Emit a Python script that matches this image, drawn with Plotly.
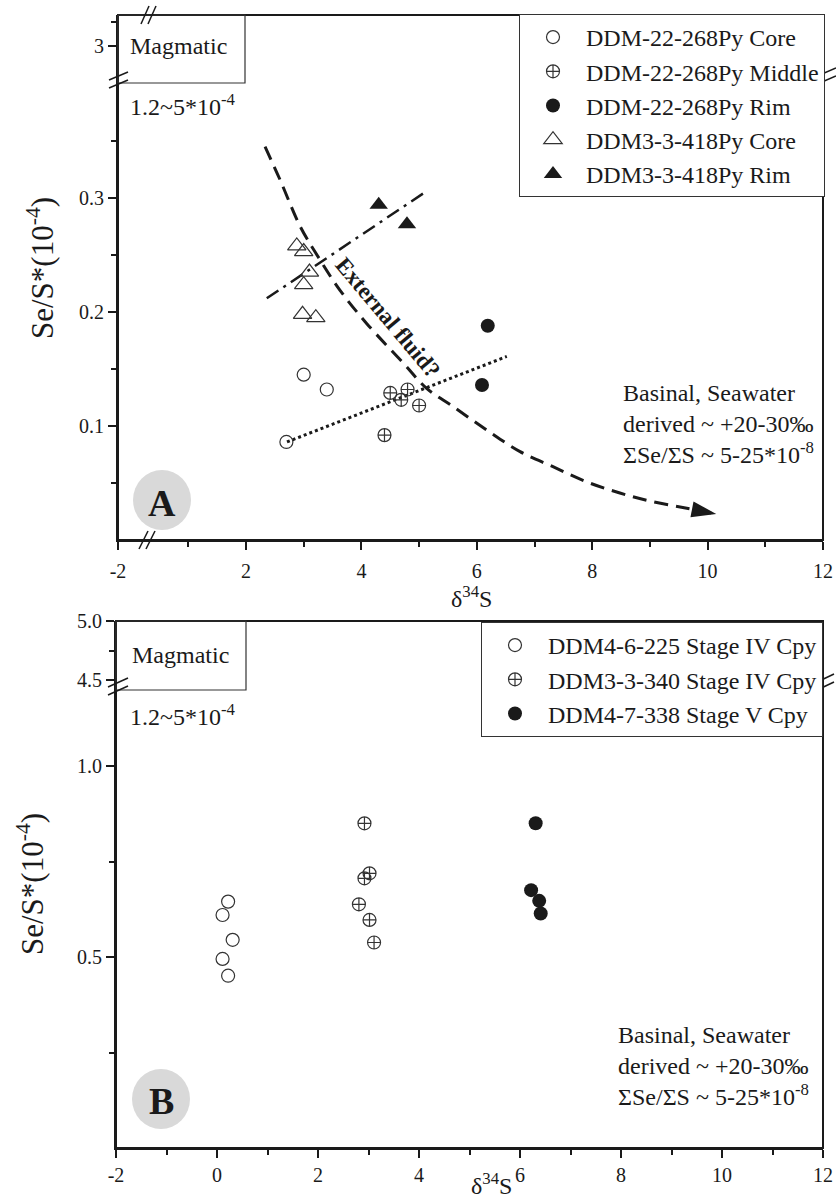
import plotly.graph_objects as go

W, H = 836, 1199
FONT = "Liberation Serif, Times New Roman, serif"
INK = "#1a1a1a"

# ---------------- Panel A data (pyrite) ----------------
core268_x = [3.00, 3.40, 2.70]
core268_y = [0.145, 0.132, 0.086]
mid268_x = [4.50, 4.80, 4.69, 5.00, 4.40]
mid268_y = [0.129, 0.132, 0.123, 0.118, 0.092]
rim268_x = [6.19, 6.09]
rim268_y = [0.188, 0.136]
core418_x = [2.88, 3.00, 3.10, 3.00, 2.98, 3.21]
core418_y = [0.258, 0.253, 0.235, 0.224, 0.198, 0.195]
rim418_x = [4.30, 4.79]
rim418_y = [0.294, 0.277]

# trend lines (panel A)
dot_x = [2.71, 6.52]
dot_y = [0.086, 0.161]
dashdot_x = [2.36, 5.13]
dashdot_y = [0.212, 0.306]
curve_x = [2.33, 2.59, 2.94, 3.28, 3.63, 4.09, 4.73, 5.13, 5.59, 6.17, 6.75,
           7.32, 7.90, 8.48, 9.05, 9.64, 10.15]
curve_y = [0.345, 0.316, 0.275, 0.246, 0.219, 0.190, 0.155, 0.133, 0.117, 0.0965,
           0.0775, 0.0643, 0.0511, 0.0412, 0.0336, 0.0278, 0.0228]

# ---------------- Panel B data (chalcopyrite) ----------------
cpy225_x = [0.22, 0.11, 0.31, 0.11, 0.22]
cpy225_y = [0.645, 0.610, 0.545, 0.495, 0.451]
cpy340_x = [2.92, 3.02, 2.92, 2.81, 3.02, 3.11]
cpy340_y = [0.850, 0.719, 0.706, 0.638, 0.597, 0.538]
cpy338_x = [6.31, 6.22, 6.38, 6.41]
cpy338_y = [0.850, 0.675, 0.647, 0.614]

# tick values / labels
a_x_major = [2, 4, 6, 8, 10, 12]
a_x_minor = [1, 3, 5, 7, 9, 11]
a_x_left = [-2]
a_x_left_text = ["-2"]
a_y_major = [0.1, 0.2, 0.3]
a_y_minor = [0.05, 0.15, 0.25, 0.35]
a_y_upper = [3]
a_y_upper_minor = [3.1]
b_x_major = [-2, 0, 2, 4, 6, 8, 10, 12]
b_x_major_text = ["-2", "0", "2", "4", "6", "8", "10", "12"]
b_x_minor = [-1, 1, 3, 5, 7, 9, 11]
b_y_major = [0.5, 1.0]
b_y_minor = [0.25, 0.75]
b_y_upper = [4.5, 5.0]
b_y_upper_minor = [4.75]


def pxx(x):
    return x / W


def pyy(y):
    return 1 - y / H


fig = go.Figure()


def pts(x, y, name, symbol, size, legend, xa, ya, filled=False):
    fig.add_trace(go.Scatter(
        x=x, y=y, mode="markers", name=name, legend=legend,
        xaxis=xa, yaxis=ya,
        marker=dict(symbol=symbol, size=size,
                    color=INK if filled else "#333333",
                    line=dict(width=0 if filled else 1.2, color="#333333")),
    ))


# trend lines first (under markers)
fig.add_trace(go.Scatter(x=dot_x, y=dot_y, mode="lines", showlegend=False,
                         line=dict(color=INK, width=3, dash="3px,3px"),
                         xaxis="x", yaxis="y"))
fig.add_trace(go.Scatter(x=dashdot_x, y=dashdot_y, mode="lines", showlegend=False,
                         line=dict(color=INK, width=2.5, dash="14px,6px,3px,6px"),
                         xaxis="x", yaxis="y"))
fig.add_trace(go.Scatter(x=curve_x, y=curve_y, mode="lines+markers", showlegend=False,
                         line=dict(color=INK, width=3, dash="14px,8px", shape="spline"),
                         marker=dict(symbol="arrow", angleref="previous",
                                     size=[0] * (len(curve_x) - 1) + [26], color=INK,
                                     line=dict(width=0), opacity=1),
                         xaxis="x", yaxis="y"))

pts(core268_x, core268_y, "DDM-22-268Py Core", "circle-open", 13, "legend", "x", "y")
pts(mid268_x, mid268_y, "DDM-22-268Py Middle", "circle-cross-open", 13, "legend", "x", "y")
pts(rim268_x, rim268_y, "DDM-22-268Py Rim", "circle", 14, "legend", "x", "y", True)
pts(core418_x, core418_y, "DDM3-3-418Py Core", "triangle-up-open", 16, "legend", "x", "y")
pts(rim418_x, rim418_y, "DDM3-3-418Py Rim", "triangle-up", 16, "legend", "x", "y", True)

pts(cpy225_x, cpy225_y, "DDM4-6-225 Stage IV Cpy", "circle-open", 13, "legend2", "x5", "y5")
pts(cpy340_x, cpy340_y, "DDM3-3-340 Stage IV Cpy", "circle-cross-open", 13, "legend2", "x5", "y5")
pts(cpy338_x, cpy338_y, "DDM4-7-338 Stage V Cpy", "circle", 14, "legend2", "x5", "y5", True)

# empty traces so the broken-axis segments are drawn
for xa, ya in [("x2", "y"), ("x2", "y2"), ("x5", "y6")]:
    fig.add_trace(go.Scatter(x=[], y=[], xaxis=xa, yaxis=ya, showlegend=False))

ax = dict(showline=True, linecolor=INK, linewidth=2, ticks="outside", ticklen=8,
          tickwidth=1.5, tickcolor=INK, showgrid=False, zeroline=False,
          tickfont=dict(family=FONT, size=20, color=INK), fixedrange=True)


def minor(vals):
    return dict(tickvals=vals, ticks="outside", ticklen=5, tickwidth=1.5,
                tickcolor=INK, showgrid=False)


# Panel A geometry (pixels)
A_L, A_BRK_X, A_R = 118, 148, 823
A_T, A_BRK_Y, A_B = 15, 80, 540
A_XS = 57.7      # px per unit x
A_YS = 1140.0    # px per unit y (lower)
A_YS2 = 240.0    # px per unit y (upper)

# Panel B geometry
B_L, B_R = 116, 823
B_T, B_BRK_Y, B_B = 621, 686, 1148
B_YS = 382.0
B_YS2 = 118.0

fig.update_layout(
    xaxis=dict(ax, domain=[pxx(A_BRK_X), pxx(A_R)], anchor="y",
               range=[2 - (246 - A_BRK_X) / A_XS, 2 + (A_R - 246) / A_XS],
               tickvals=a_x_major, minor=minor(a_x_minor), ticklabelstandoff=4),
    xaxis2=dict(ax, domain=[pxx(A_L), pxx(A_BRK_X)], anchor="y",
                range=[-2, -2 + (A_BRK_X - A_L) / A_XS],
                tickvals=a_x_left, ticktext=a_x_left_text, ticklabelstandoff=4),
    yaxis=dict(ax, domain=[pyy(A_B), pyy(A_BRK_Y)], anchor="x2",
               range=[0, (A_B - A_BRK_Y) / A_YS],
               tickvals=a_y_major, minor=minor(a_y_minor)),
    yaxis2=dict(ax, domain=[pyy(A_BRK_Y), pyy(A_T)], anchor="x2",
                range=[3 - (A_BRK_Y - 46) / A_YS2, 3 + (46 - A_T) / A_YS2],
                tickvals=a_y_upper, minor=minor(a_y_upper_minor)),
    xaxis5=dict(ax, domain=[pxx(B_L), pxx(B_R)], anchor="y5", range=[-2, 12],
                tickvals=b_x_major, ticktext=b_x_major_text, minor=minor(b_x_minor)),
    yaxis5=dict(ax, domain=[pyy(B_B), pyy(B_BRK_Y)], anchor="x5",
                range=[0, (B_B - B_BRK_Y) / B_YS], tickformat=".1f",
                tickvals=b_y_major, minor=minor(b_y_minor)),
    yaxis6=dict(ax, domain=[pyy(B_BRK_Y), pyy(B_T)], anchor="x5",
                range=[4.5 - (B_BRK_Y - 680) / B_YS2, 5.0], tickformat=".1f",
                tickvals=b_y_upper, minor=minor(b_y_upper_minor)),
)

legend_style = dict(font=dict(family=FONT, size=24, color=INK), bgcolor="white",
                    bordercolor="#333333", borderwidth=1, xanchor="right",
                    yanchor="top", itemwidth=56, tracegroupgap=0)
fig.update_layout(
    legend=dict(legend_style, x=pxx(825), y=pyy(14)),
    legend2=dict(legend_style, x=pxx(823), y=pyy(622)),
)

shapes = []


def line(x0, y0, x1, y1, w=1.5):
    shapes.append(dict(type="line", xref="paper", yref="paper",
                       x0=pxx(x0), y0=pyy(y0), x1=pxx(x1), y1=pyy(y1),
                       line=dict(color=INK, width=w)))


def rect(x0, y0, x1, y1, w=2, fill="rgba(0,0,0,0)", lc=INK):
    shapes.append(dict(type="rect", xref="paper", yref="paper",
                       x0=pxx(x0), y0=pyy(y1), x1=pxx(x1), y1=pyy(y0),
                       line=dict(color=lc, width=w), fillcolor=fill))


def circ(cx, cy, rx, ry):
    shapes.append(dict(type="circle", xref="paper", yref="paper",
                       x0=pxx(cx - rx), y0=pyy(cy + ry), x1=pxx(cx + rx), y1=pyy(cy - ry),
                       line=dict(width=0), fillcolor="#d9d9d9"))


# frames
rect(A_L, A_T, A_R, A_B)
rect(B_L, B_T, B_R, B_B)
# Magmatic boxes
rect(A_L, A_T, 245, 83, w=1.2, lc="#333333")
rect(B_L, B_T, 246, 690, w=1.2, lc="#333333")
# label discs
circ(162, 500, 29, 30)
circ(161, 1099, 29, 30)

# axis break marks
line(141, 24, 149, 6); line(148, 24, 156, 6)          # A top
line(139, 549, 148, 531); line(146, 549, 155, 531)    # A bottom
line(109, 80, 128, 72); line(109, 88, 128, 80)        # A left
line(815, 77, 836, 68); line(815, 85, 836, 76)        # A right
line(108, 687, 128, 678); line(108, 695, 128, 686)    # B left
line(815, 683, 834, 674); line(815, 691, 834, 682)    # B right

fig.update_layout(shapes=shapes)

ann = []


def text(x, y, s, size=24, xanchor="center", yanchor="middle", align="center",
         angle=0, bold=False):
    ann.append(dict(xref="paper", yref="paper", x=pxx(x), y=pyy(y), text=s,
                    showarrow=False, xanchor=xanchor, yanchor=yanchor, align=align,
                    textangle=angle,
                    font=dict(family=FONT, size=size, color=INK,
                              weight="bold" if bold else "normal")))


text(178, 46, "Magmatic")
text(183, 105, "1.2~5*10<sup>-4</sup>")
text(180, 655, "Magmatic")
text(183, 715, "1.2~5*10<sup>-4</sup>")

basinal = "Basinal, Seawater<br>derived ~ +20-30‰<br>ΣSe/ΣS ~ 5-25*10<sup>-8</sup>"
text(621, 424, basinal, xanchor="left", align="left")
text(616, 1066, basinal, xanchor="left", align="left")

text(162, 503, "A", size=38, bold=True)
text(161, 1101, "B", size=38, bold=True)

text(388, 317, "External fluid?", size=23, angle=50, bold=True)

text(471, 597, "δ<sup>34</sup>S")
text(492, 1184, "δ<sup>34</sup>S")
text(40, 268, "Se/S*(10<sup>-4</sup>)", size=31, angle=-90)
text(30, 884, "Se/S*(10<sup>-4</sup>)", size=31, angle=-90)

fig.update_layout(annotations=ann)

fig.update_layout(width=W, height=H, margin=dict(l=0, r=0, t=0, b=0),
                  paper_bgcolor="white", plot_bgcolor="rgba(0,0,0,0)",
                  template="none", font=dict(family=FONT, color=INK))

fig.write_html("out.html")
